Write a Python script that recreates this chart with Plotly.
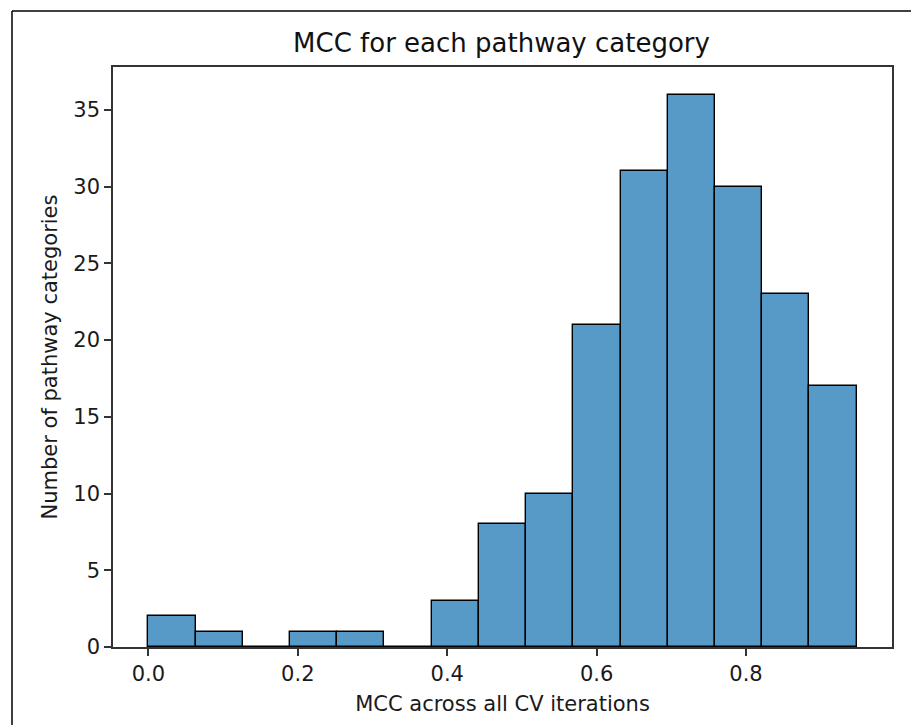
import plotly.graph_objects as go

# Histogram data (bin edges and counts)
bin_width = 0.0632
n_bins = 15
bin_starts = [round(i * bin_width, 4) for i in range(n_bins)]
counts = [2, 1, 0, 1, 1, 0, 3, 8, 10, 21, 31, 36, 30, 23, 17]
x_ticks = [0.0, 0.2, 0.4, 0.6, 0.8]
y_ticks = [0, 5, 10, 15, 20, 25, 30, 35]

title_text = "MCC for each pathway category"
x_title = "MCC across all CV iterations"
y_title = "Number of pathway categories"

centers = [s + bin_width / 2 for s in bin_starts]

W, H = 911, 725
L, R, T, B = 113, 892, 67, 647

fig = go.Figure()
fig.add_trace(go.Bar(
    x=centers, y=counts, width=[bin_width] * n_bins,
    marker=dict(color="#5799c7", line=dict(color="black", width=1.4)),
    showlegend=False,
))

xmax = bin_starts[-1] + bin_width
pad = 0.05 * xmax
fig.update_layout(
    width=W, height=H,
    margin=dict(l=L, r=W - R, t=T, b=H - B, pad=0),
    paper_bgcolor="white", plot_bgcolor="white",
    font=dict(family="DejaVu Sans", size=21, color="#1a1a1a"),
    bargap=0,
    title=dict(text=title_text, x=((293 + 710) / 2) / W, xanchor="center",
               y=1 - 43 / H, yanchor="middle", yref="container",
               font=dict(size=26, color="#111")),
    xaxis=dict(range=[-pad, xmax + pad], tickvals=x_ticks, tickformat=".1f",
               showline=True, mirror=True, linecolor="#333", linewidth=1.6,
               ticks="outside", ticklen=7, tickwidth=1.6, tickcolor="#333",
               showgrid=False, zeroline=False,
               title=dict(text=x_title, standoff=11, font=dict(size=21))),
    yaxis=dict(range=[0, max(counts) * 1.05], tickvals=y_ticks,
               showline=True, mirror=True, linecolor="#333", linewidth=1.6,
               ticks="outside", ticklen=7, tickwidth=1.6, tickcolor="#333",
               showgrid=False, zeroline=False,
               title=dict(text=y_title, standoff=10, font=dict(size=21))),
)

# outer frame of the screenshot (top and left edges)
pw, ph = R - L, B - T
def px(x): return (x - L) / pw
def py(y): return (B - y) / ph
fig.add_shape(type="line", xref="paper", yref="paper",
              x0=px(12), x1=px(930), y0=py(11), y1=py(11),
              line=dict(color="black", width=1.5))
fig.add_shape(type="line", xref="paper", yref="paper",
              x0=px(12), x1=px(12), y0=py(11), y1=py(740),
              line=dict(color="black", width=1.5))

fig.write_html("out.html",
               config={"displayModeBar": False},
               post_script="document.body.style.margin='0';document.body.style.overflow='hidden';")
